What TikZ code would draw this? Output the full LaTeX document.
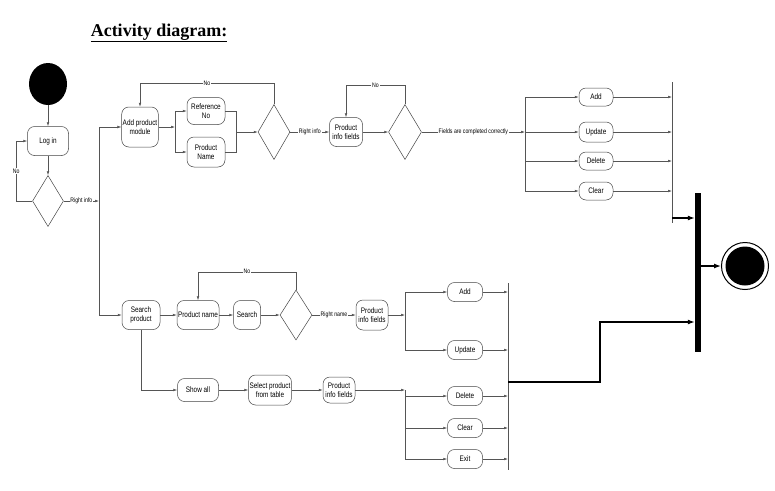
\documentclass[tikz,border=0pt]{standalone}
\usepackage{fontspec}
\usetikzlibrary{shapes.geometric,arrows.meta}
\newfontfamily\boxfont[FakeStretch=0.8]{Liberation Sans}
\newfontfamily\headfont{Liberation Serif}
\definecolor{linegray}{HTML}{555555}
\definecolor{boxgray}{HTML}{444444}
\begin{document}
\begin{tikzpicture}[x=1pt,y=-1pt,
act/.style ={rectangle, draw=boxgray, line width=0.5pt, rounded corners=7pt,
  align=center, inner sep=1pt, font=\boxfont\fontsize{8}{9}\selectfont
},
choice/.style ={diamond, draw=boxgray, line width=0.5pt, inner sep=0pt
},
flow/.style ={draw=linegray, line width=0.5pt, -{Latex[length=4pt,width=2.6pt]}
},
plain/.style ={draw=linegray, line width=0.5pt
},
guard/.style ={fill=white, inner sep=0.8pt, font=\boxfont\fontsize{6.5}{7}\selectfont
},
heavy/.style ={draw=black, line width=1.3pt, -{Latex[length=7pt,width=5pt]}
}]
\useasboundingbox (0,0) rectangle (775,490);
\node (title) at (159,33) [font=\headfont\fontsize{18}{20}\selectfont\bfseries] {\underline{Activity diagram:}};
\node (start) at (48,84) [ellipse, fill=black, minimum width=38, minimum height=42, inner sep=0] {};
\node (login) at (48,141) [act, minimum width=41, minimum height=29] {Log in};
\node (d1) at (48,201) [choice, minimum width=31, minimum height=51] {};
\node (addm) at (140,127) [act, minimum width=36, minimum height=40] {Add product\\module};
\node (ref) at (206,111) [act, minimum width=38, minimum height=27] {Reference\\No};
\node (pname) at (206,152) [act, minimum width=38, minimum height=30] {Product\\Name};
\node (d2) at (274,132) [choice, minimum width=32, minimum height=55] {};
\node (pif1) at (346,132) [act, minimum width=33, minimum height=29] {Product\\info fields};
\node (d3) at (405,132) [choice, minimum width=33, minimum height=55] {};
\node (add1) at (596,97) [act, minimum width=34, minimum height=18] {Add};
\node (upd1) at (596,132) [act, minimum width=34, minimum height=20] {Update};
\node (del1) at (596,161) [act, minimum width=34, minimum height=18] {Delete};
\node (clr1) at (596,191) [act, minimum width=34, minimum height=18] {Clear};
\node (search) at (141,315) [act, minimum width=38, minimum height=29] {Search\\product};
\node (prn) at (198,315) [act, minimum width=42, minimum height=29] {Product name};
\node (srch) at (247,315) [act, minimum width=27, minimum height=29] {Search};
\node (d4) at (296,315) [choice, minimum width=32, minimum height=50] {};
\node (pif2) at (372,315) [act, minimum width=32, minimum height=30] {Product\\info fields};
\node (showall) at (198,390) [act, minimum width=41, minimum height=23] {Show all};
\node (sel) at (270,390) [act, minimum width=34, minimum height=30] {Select product\\from table};
\node (pif3) at (339,390) [act, minimum width=32, minimum height=26] {Product\\info fields};
\node (add2) at (465,292) [act, minimum width=35, minimum height=19] {Add};
\node (upd2) at (465,350) [act, minimum width=35, minimum height=19] {Update};
\node (del2) at (465,396) [act, minimum width=35, minimum height=19] {Delete};
\node (clr2) at (465,428) [act, minimum width=35, minimum height=19] {Clear};
\node (ext2) at (465,459) [act, minimum width=35, minimum height=19] {Exit};
\node (bar) at (698,272) [rectangle, fill=black, minimum width=6, minimum height=159, inner sep=0] {};
\node (fin) at (745,266) [circle, draw=black, line width=1pt, minimum size=47, inner sep=0] {};
\node (fincore) at (fin.center) [circle, fill=black, minimum size=39, inner sep=0] {};
\coordinate (fork) at (99,201);
\coordinate (j1) at (175,127);
\coordinate (m1) at (236,132);
\coordinate (j2) at (525,132);
\coordinate (m2a) at (672,82);
\coordinate (m2b) at (672,223);
\coordinate (t1) at (672,218);
\coordinate (j3) at (405,315);
\coordinate (j4) at (405,390);
\coordinate (m3a) at (508,283);
\coordinate (m3b) at (508,470);
\coordinate (t2) at (508,382);
\coordinate (bend) at (600,322);
\draw[flow] (start) -- (login);
\draw[flow] (login) -- (d1);
\draw[flow] (d1.west) -- ++(-16,0) |- node[guard,pos=0.25] {No} (login.west);
\draw[flow] (d1.east) -- node[guard] {Right info} (fork);
\draw[flow] (fork) |- (addm.west);
\draw[flow] (fork) |- (search.west);
\draw[flow] (addm.east) -- (j1);
\draw[flow] (j1) |- (ref.west);
\draw[flow] (j1) |- (pname.west);
\draw[plain] (ref.east) -| (m1);
\draw[plain] (pname.east) -| (m1);
\draw[flow] (m1) -- (d2.west);
\draw[flow] (d2.north) -- ++(0,-21) -| node[guard,pos=0.25] {No} (addm.north);
\draw[flow] (d2.east) -- node[guard] {Right info} (pif1.west);
\draw[flow] (pif1) -- (d3);
\draw[flow] (d3.north) -- ++(0,-19) -| node[guard,pos=0.25] {No} (pif1.north);
\draw[flow] (d3.east) -- node[guard] {Fields are completed correctly} (j2);
\draw[plain] (m2a) -- (m2b);
\foreach \n in {add1,upd1,del1,clr1} {
  \draw[flow] (j2) |- (\n.west);
  \draw[flow] (\n.east) -- (\n.east -| m2a);
}
\draw[heavy] (t1) -- (t1 -| bar.west);
\draw[heavy] (bar.east |- fin) -- (fin.west);
\draw[flow] (search) -- (prn);
\draw[flow] (prn) -- (srch);
\draw[flow] (srch) -- (d4);
\draw[flow] (d4.north) -- ++(0,-18) -| node[guard,pos=0.25] {No} (prn.north);
\draw[flow] (d4.east) -- node[guard] {Right name} (pif2.west);
\draw[flow] (pif2.east) -- (j3);
\draw[flow] (search.south) |- (showall.west);
\draw[flow] (showall) -- (sel);
\draw[flow] (sel) -- (pif3);
\draw[flow] (pif3.east) -- (j4);
\draw[plain] (m3a) -- (m3b);
\foreach \n in {add2,upd2} {
  \draw[flow] (j3) |- (\n.west);
}
\foreach \n in {del2,clr2,ext2} {
  \draw[flow] (j4) |- (\n.west);
}
\foreach \n in {add2,upd2,del2,clr2,ext2} {
  \draw[flow] (\n.east) -- (\n.east -| m3a);
}
\draw[heavy] (t2) -| (bend) -- (bend -| bar.west);
\end{tikzpicture}
\end{document}
